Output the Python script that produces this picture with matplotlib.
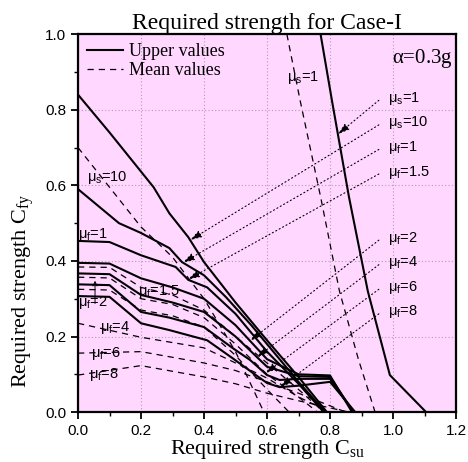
import numpy as np
import matplotlib
matplotlib.use("Agg")
import matplotlib.pyplot as plt

# upper values (solid)
up_s1_x = [0.77, 0.806, 0.86, 0.92, 0.99, 1.105]
up_s1_y = [1.0, 0.825, 0.57, 0.32, 0.098, 0.0]
up_s10_x = [0, 0.1, 0.24, 0.29, 0.35, 0.40, 0.5, 0.6, 0.7, 0.79]
up_s10_y = [0.84, 0.74, 0.595, 0.526, 0.463, 0.397, 0.29, 0.19, 0.093, 0.0]
up_f1_x = [0, 0.13, 0.2, 0.29, 0.33, 0.4, 0.47, 0.55, 0.62, 0.7, 0.785]
up_f1_y = [0.59, 0.50, 0.474, 0.434, 0.397, 0.362, 0.304, 0.23, 0.16, 0.08, 0.0]
up_f15_x = [0, 0.1, 0.2, 0.31, 0.35, 0.41, 0.5, 0.6, 0.7, 0.78]
up_f15_y = [0.453, 0.45, 0.415, 0.384, 0.35, 0.33, 0.26, 0.16, 0.075, 0.0]
up_f2_x = [0, 0.1, 0.2, 0.3, 0.4, 0.5, 0.6, 0.7, 0.8, 0.87]
up_f2_y = [0.395, 0.393, 0.354, 0.33, 0.30, 0.23, 0.14, 0.10, 0.097, 0.0]
up_f4_x = [0, 0.1, 0.2, 0.3, 0.4, 0.5, 0.6, 0.7, 0.8, 0.875]
up_f4_y = [0.367, 0.365, 0.31, 0.29, 0.265, 0.20, 0.12, 0.095, 0.093, 0.0]
up_f6_x = [0, 0.1, 0.2, 0.29, 0.4, 0.49, 0.546, 0.6, 0.64, 0.7, 0.8, 0.875]
up_f6_y = [0.338, 0.336, 0.265, 0.25, 0.225, 0.17, 0.138, 0.098, 0.085, 0.088, 0.088, 0.0]
up_f8_x = [0, 0.1, 0.2, 0.29, 0.41, 0.49, 0.556, 0.6, 0.64, 0.7, 0.8, 0.88]
up_f8_y = [0.307, 0.305, 0.235, 0.217, 0.19, 0.143, 0.103, 0.077, 0.066, 0.07, 0.08, 0.0]

# mean values (dashed)
mn_s1_x = [0.663, 0.705, 0.77, 0.83, 0.89, 0.943]
mn_s1_y = [1.0, 0.825, 0.57, 0.32, 0.14, 0.0]
mn_s10_x = [0, 0.1, 0.2, 0.3, 0.4, 0.5, 0.59]
mn_s10_y = [0.70, 0.595, 0.49, 0.41, 0.30, 0.16, 0.0]
mn_f1_x = [0, 0.1, 0.2, 0.3, 0.4, 0.5, 0.6, 0.7, 0.78]
mn_f1_y = [0.384, 0.383, 0.33, 0.31, 0.27, 0.20, 0.13, 0.06, 0.0]
mn_f15_x = [0, 0.1, 0.2, 0.3, 0.4, 0.5, 0.6, 0.7, 0.76]
mn_f15_y = [0.357, 0.355, 0.30, 0.285, 0.25, 0.18, 0.10, 0.04, 0.0]
mn_f2_x = [0, 0.1, 0.2, 0.3, 0.4, 0.5, 0.6, 0.67]
mn_f2_y = [0.325, 0.323, 0.27, 0.255, 0.225, 0.15, 0.06, 0.0]
mn_f4_x = [0, 0.2, 0.4, 0.5, 0.6, 0.7, 0.8]
mn_f4_y = [0.235, 0.198, 0.17, 0.13, 0.09, 0.04, 0.0]
mn_f6_x = [0, 0.2, 0.4, 0.5, 0.6, 0.7, 0.85]
mn_f6_y = [0.156, 0.16, 0.13, 0.11, 0.08, 0.05, 0.0]
mn_f8_x = [0, 0.2, 0.4, 0.5, 0.6, 0.7, 0.86]
mn_f8_y = [0.098, 0.123, 0.093, 0.075, 0.05, 0.03, 0.0]

upper = [(up_s1_x, up_s1_y), (up_s10_x, up_s10_y), (up_f1_x, up_f1_y), (up_f15_x, up_f15_y),
         (up_f2_x, up_f2_y), (up_f4_x, up_f4_y), (up_f6_x, up_f6_y), (up_f8_x, up_f8_y)]
mean = [(mn_s1_x, mn_s1_y), (mn_s10_x, mn_s10_y), (mn_f1_x, mn_f1_y), (mn_f15_x, mn_f15_y),
        (mn_f2_x, mn_f2_y), (mn_f4_x, mn_f4_y), (mn_f6_x, mn_f6_y), (mn_f8_x, mn_f8_y)]

# right-hand labels: text, label y, arrow x on the curve
right_labels = ["s=1", "s=10", "f=1", "f=1.5", "f=2", "f=4", "f=6", "f=8"]
right_label_y = [0.83, 0.765, 0.70, 0.635, 0.46, 0.395, 0.33, 0.265]
arrow_x = [0.825, 0.356, 0.333, 0.349, 0.546, 0.568, 0.594, 0.641]

# left-hand labels
left_labels = ["s=10", "f=1", "f=1.5", "f=2", "f=4", "f=6", "f=8"]
left_x = [0.03, 0.0, 0.19, 0.0, 0.07, 0.04, 0.035]
left_y = [0.62, 0.47, 0.32, 0.29, 0.225, 0.155, 0.10]

sans = "Liberation Sans"
serif = "Liberation Serif"


def mu(s):
    return r"$\mathregular{\mu_%s}$%s" % (s[0], s[1:])


fig = plt.figure(figsize=(4.68, 4.62), dpi=100)
ax = fig.add_axes([0.1667, 0.108, 0.8077, 0.818])
ax.set_facecolor("#FFD7FF")

for i, (x, y) in enumerate(upper):
    ax.plot(x, y, color="k", lw=1.5, label="Upper values" if i == 0 else None)
for i, (x, y) in enumerate(mean):
    ax.plot(x, y, color="k", lw=0.9, ls=(0, (5, 4)), label="Mean values" if i == 0 else None)

for (cx, cy), lab, ly, axx in zip(upper, right_labels, right_label_y, arrow_x):
    ty = np.interp(axx, cx, cy)
    ax.annotate("", xy=(axx, ty), xytext=(0.955, ly - 0.005),
                arrowprops=dict(arrowstyle="-|>,head_length=0.7,head_width=0.22",
                                ls=(0, (1, 2.5)), lw=0.8, color="k",
                                shrinkA=0, shrinkB=0))
    ax.text(0.985, ly, mu(lab), fontsize=10.5, family=sans, va="center", ha="left")

for lab, lx, ly in zip(left_labels, left_x, left_y):
    ax.text(lx, ly, mu(lab), fontsize=10.5, family=sans, va="center", ha="left")

ax.annotate("", xy=(0.054, 0.355), xytext=(0.054, 0.28),
            arrowprops=dict(arrowstyle="->,head_length=0.3,head_width=0.15", lw=0.7, color="k"))
ax.text(0.665, 0.885, mu("s=1"), fontsize=10.5, family=sans, va="center", ha="left")

ax.text(1.19, 0.965, r"$\mathregular{\alpha}$=0.3g", fontsize=15, family=serif, ha="right", va="top")

ax.set_xlim(0, 1.2)
ax.set_ylim(0, 1.0)
ax.set_xticks(np.arange(0, 1.21, 0.2))
ax.set_yticks(np.arange(0, 1.01, 0.2))
ax.set_xticks(np.arange(0.1, 1.2, 0.2), minor=True)
ax.set_yticks(np.arange(0.1, 1.0, 0.2), minor=True)
ax.set_xticklabels(["%.1f" % v for v in np.arange(0, 1.21, 0.2)], family=sans, fontsize=11)
ax.set_yticklabels(["%.1f" % v for v in np.arange(0, 1.01, 0.2)], family=sans, fontsize=11)
ax.tick_params(which="major", direction="out", length=5, width=1.3)
ax.tick_params(which="minor", direction="out", length=3, width=1.0)
ax.grid(True, which="major", color="#B49AB4", ls=(0, (1, 2)), lw=0.8)
for sp in ax.spines.values():
    sp.set_linewidth(1.6)

ax.set_title("Required strength for Case-I", family=serif, fontsize=17, pad=2)
ax.set_xlabel(r"Required strength C$\mathregular{_{su}}$", family=serif, fontsize=16, labelpad=0)
ax.set_ylabel(r"Required strength C$\mathregular{_{fy}}$", family=serif, fontsize=16)
ax.yaxis.set_label_coords(-0.11, 0.32)

leg = ax.legend(loc="upper left", frameon=False, prop={"family": serif, "size": 13},
                handlelength=2.0, handletextpad=0.3, borderaxespad=0.1, labelspacing=0.1)

fig.savefig("out.png", dpi=100)
